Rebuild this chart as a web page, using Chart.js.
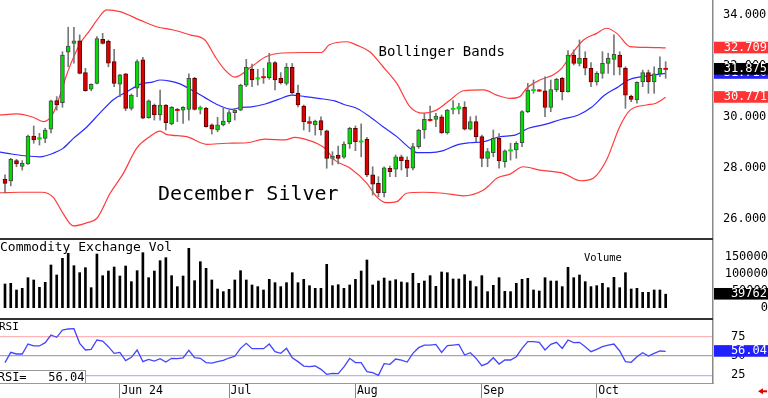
<!DOCTYPE html>
<html>
<head>
<meta charset="utf-8">
<title>December Silver</title>
<script src="https://cdn.jsdelivr.net/npm/chart.js@4.4.1/dist/chart.umd.min.js"></script>
<style>
html, body { margin: 0; padding: 0; background: #fff; }
#wrap { position: relative; width: 768px; height: 398px; overflow: hidden; background: #fff; }
#wrap canvas { position: absolute; left: 0; }
</style>
</head>
<body>
<div id="wrap">
  <canvas id="price" width="768" height="239" style="top:0px"></canvas>
  <canvas id="vol" width="768" height="80" style="top:239px"></canvas>
  <canvas id="rsi" width="768" height="79" style="top:319px"></canvas>
</div>
<script>
// daily bars, May - Oct 2024 (one entry per trading day)
const opens = [
  27.57, 27.49, 28.29, 28.06, 28.16, 29.25, 29.13, 29.16, 29.52, 30.64,
  30.56, 32.54, 32.89, 32.99, 31.74, 31.09, 31.32, 33.05, 32.98, 32.17,
  31.29, 31.69, 30.34, 31.13, 32.24, 29.97, 30.47, 30.08, 30.47, 29.73,
  30.30, 30.27, 30.30, 31.52, 30.30, 30.34, 29.69, 29.49, 29.69, 29.82,
  30.17, 30.27, 31.25, 31.87, 31.50, 31.57, 31.54, 32.13, 31.52, 31.32,
  31.95, 30.93, 30.43, 29.82, 29.69, 29.86, 29.46, 28.38, 28.51, 28.42,
  28.94, 29.56, 29.03, 29.12, 27.73, 27.40, 27.03, 27.99, 27.95, 28.44,
  28.31, 27.99, 28.84, 29.49, 29.91, 29.91, 30.01, 29.38, 30.30, 30.32,
  30.38, 29.52, 29.82, 29.23, 28.38, 28.60, 29.16, 28.25, 28.67, 28.71,
  28.99, 30.21, 31.03, 31.06, 31.03, 30.38, 31.06, 31.52, 30.99, 32.43,
  32.10, 32.30, 31.91, 31.38, 31.71, 32.10, 32.26, 32.43, 31.91, 30.82,
  30.67, 31.38, 31.74, 31.38, 31.69, 31.90
];
const highs = [
  27.73, 28.38, 28.34, 28.29, 29.29, 29.65, 29.36, 29.56, 30.66, 30.80,
  32.56, 33.52, 33.52, 33.22, 31.91, 31.30, 33.15, 33.28, 33.02, 32.65,
  31.67, 31.71, 30.90, 32.24, 32.34, 30.67, 30.51, 31.06, 30.49, 30.41,
  30.34, 30.41, 31.69, 31.56, 30.43, 30.38, 29.73, 29.99, 30.38, 30.25,
  30.34, 31.29, 32.26, 32.08, 31.87, 31.91, 32.50, 32.17, 31.74, 32.10,
  32.10, 31.25, 30.47, 30.01, 29.88, 30.01, 29.49, 28.64, 28.86, 29.03,
  29.60, 29.65, 29.73, 29.20, 28.05, 27.66, 28.05, 28.08, 28.51, 28.51,
  28.44, 28.97, 29.52, 30.14, 30.43, 30.14, 30.08, 30.30, 30.64, 30.54,
  30.60, 30.01, 30.04, 29.29, 28.77, 29.49, 29.35, 28.71, 28.97, 29.03,
  30.25, 31.32, 31.45, 31.08, 31.58, 31.45, 31.52, 31.56, 32.60, 32.63,
  33.02, 32.56, 32.13, 31.78, 32.56, 32.50, 33.22, 32.56, 31.97, 30.86,
  31.38, 31.84, 31.84, 31.97, 32.36, 32.17
];
const lows = [
  27.02, 27.30, 28.05, 27.92, 28.14, 28.97, 28.90, 28.99, 29.38, 30.27,
  30.38, 31.97, 32.11, 31.69, 31.01, 31.03, 31.30, 32.86, 31.97, 31.19,
  30.80, 30.25, 30.27, 30.80, 29.93, 29.95, 29.88, 29.88, 29.49, 29.69,
  29.82, 29.75, 29.88, 30.27, 30.12, 29.60, 29.33, 29.42, 29.65, 29.75,
  29.88, 30.25, 31.19, 31.19, 31.25, 31.32, 31.48, 31.06, 31.29, 31.25,
  30.90, 30.40, 29.49, 29.42, 29.29, 29.29, 27.99, 28.12, 28.16, 28.38,
  28.77, 28.68, 28.44, 27.66, 26.94, 26.87, 26.87, 27.66, 27.66, 27.92,
  27.66, 27.92, 28.77, 29.16, 29.84, 29.62, 29.36, 29.33, 30.12, 30.12,
  29.49, 29.49, 29.03, 28.05, 28.05, 28.44, 27.99, 28.03, 28.31, 28.38,
  28.84, 30.17, 30.93, 31.00, 30.01, 30.21, 30.99, 30.67, 30.97, 32.04,
  32.00, 31.65, 31.19, 31.25, 31.52, 31.71, 31.65, 31.65, 30.34, 30.60,
  30.54, 31.19, 30.93, 30.93, 31.58, 31.52
];
const closes = [
  27.40, 28.34, 28.16, 28.18, 29.25, 29.10, 29.19, 29.49, 30.63, 30.47,
  32.43, 32.78, 32.99, 31.71, 31.03, 31.28, 33.08, 32.89, 32.11, 31.32,
  31.65, 30.34, 30.86, 32.17, 29.95, 30.63, 30.08, 30.47, 29.78, 30.38,
  30.25, 30.38, 31.52, 30.30, 30.38, 29.62, 29.52, 29.69, 29.84, 30.17,
  30.27, 31.25, 31.95, 31.45, 31.53, 31.55, 32.13, 31.45, 31.35, 31.95,
  30.95, 30.47, 29.82, 29.75, 29.84, 29.49, 28.38, 28.47, 28.38, 28.94,
  29.56, 29.03, 29.05, 27.73, 27.37, 27.03, 28.01, 27.86, 28.44, 28.29,
  27.99, 28.84, 29.49, 29.91, 29.86, 30.04, 29.38, 30.27, 30.34, 30.40,
  29.52, 29.82, 29.23, 28.38, 28.64, 29.16, 28.28, 28.67, 28.71, 28.97,
  30.21, 31.06, 31.08, 31.02, 30.38, 31.08, 31.48, 30.99, 32.43, 32.10,
  32.30, 31.91, 31.38, 31.71, 32.10, 32.30, 32.46, 31.95, 30.86, 30.69,
  31.36, 31.74, 31.38, 31.69, 31.91, 31.875
];
const volumes = [
  69700, 71700, 52100, 57000, 88300, 81500, 59900, 74600, 125600, 96200,
  145200, 159900, 123600, 103000, 117700, 58900, 157900, 94200, 107900, 119700,
  93200, 122600, 76600, 108900, 161800, 88300, 107900, 138300, 147100, 94200,
  61900, 93200, 174600, 79500, 135400, 115800, 81500, 55000, 47200, 54000,
  81500, 108900, 81500, 66800, 61900, 52100, 83400, 73600, 61900, 73600,
  103000, 73600, 83400, 64800, 57000, 57000, 127500, 64800, 67700, 57000,
  66800, 83400, 107900, 140300, 66800, 78500, 87300, 78500, 82400, 75600,
  73600, 101100, 71700, 78500, 94200, 62800, 105000, 103000, 84400, 84400,
  97100, 78500, 61900, 94200, 47200, 65800, 88300, 48100, 47200, 71700,
  83400, 86400, 52100, 49100, 88300, 78500, 78500, 61900, 118700, 88300,
  96200, 76600, 61900, 64800, 71700, 58900, 89300, 58900, 103000, 55000,
  57000, 45200, 45200, 52100, 52100, 39762
];
const rsiValues = [
  41.4, 54.7, 52.6, 52.6, 65.5, 63.0, 63.0, 67.3, 77.2, 74.2,
  83.7, 85.0, 85.4, 66.4, 57.8, 58.6, 70.7, 69.4, 62.1, 53.5,
  54.7, 44.0, 48.3, 57.8, 42.7, 45.7, 43.5, 46.5, 42.2, 47.0,
  46.5, 47.4, 57.3, 47.8, 47.0, 41.4, 40.9, 42.7, 44.4, 47.4,
  49.6, 59.9, 66.4, 59.5, 59.5, 59.5, 65.5, 55.6, 53.5, 59.9,
  47.8, 42.7, 37.0, 36.2, 37.0, 32.7, 26.3, 27.5, 27.1, 35.8,
  47.0, 41.4, 41.4, 29.7, 28.4, 25.0, 40.1, 39.2, 46.1, 44.8,
  42.2, 53.5, 60.8, 64.2, 64.2, 65.1, 54.7, 63.4, 64.2, 65.1,
  51.3, 54.3, 47.0, 37.5, 40.5, 47.8, 39.6, 44.8, 44.8, 49.1,
  59.9, 68.6, 68.6, 67.7, 57.8, 65.1, 67.7, 59.9, 70.7, 67.3,
  67.7, 62.1, 55.6, 58.6, 62.1, 64.2, 65.5, 56.5, 42.7, 41.8,
  49.1, 54.3, 50.0, 53.5, 56.5, 56.04
];

// bollinger bands (bar position, price)
const upperAt = [-0.87, 2.0, 4.9, 6.7, 8.4, 9.6, 10.9, 13.1, 14.8, 16.0, 17.7, 20.0, 23.5, 26.4, 29.3, 32.2, 34.8, 36.6, 38.3, 40.0,
  42.9, 45.3, 48.2, 52.2, 55.1, 56.4, 59.5, 61.2, 63.5, 65.8, 68.2, 70.5, 72.8, 75.1, 77.5, 79.8, 83.3, 85.6, 87.9, 89.6,
  90.8, 93.1, 95.4, 96.9, 98.3, 100.7, 103.0, 104.7, 106.5, 108.8, 111.7, 115.0];
const upperVals = [30.08, 30.12, 29.99, 29.82, 30.15, 30.86, 31.76, 32.89, 33.41, 33.80, 34.20, 34.13, 33.80, 33.54, 33.41, 33.22, 33.02, 32.36, 31.84, 31.56,
  31.97, 32.35, 32.51, 32.53, 32.53, 32.82, 32.95, 32.82, 32.56, 31.97, 31.32, 30.40, 30.15, 30.27, 30.67, 31.03, 31.06, 30.86, 30.73, 30.80,
  31.13, 31.45, 31.65, 31.91, 32.36, 33.02, 33.28, 33.48, 33.28, 32.76, 32.73, 32.709];
const midAt = [-0.87, 1.4, 3.8, 6.1, 8.4, 10.1, 11.9, 14.2, 16.5, 18.9, 21.2, 23.5, 25.8, 27.0, 28.7, 30.2, 32.5, 34.8, 37.1, 39.5,
  41.2, 42.9, 45.3, 47.6, 49.9, 52.2, 54.5, 57.4, 58.9, 61.2, 63.5, 65.8, 68.2, 70.5, 71.7, 74.0, 76.3, 78.6, 80.9, 83.3,
  86.2, 88.8, 91.1, 94.0, 96.9, 99.8, 102.1, 104.4, 106.8, 108.5, 110.8, 113.1, 115.0];
const midVals = [28.62, 28.54, 28.47, 28.44, 28.58, 28.77, 29.16, 29.60, 30.15, 30.69, 30.99, 31.28, 31.38, 31.45, 31.41, 31.32, 31.06, 30.76, 30.47, 30.30,
  30.38, 30.40, 30.51, 30.69, 30.86, 30.80, 30.73, 30.63, 30.50, 30.34, 30.01, 29.62, 29.23, 28.77, 28.60, 28.60, 28.68, 28.90, 28.99, 29.03,
  29.23, 29.29, 29.56, 29.71, 29.91, 30.08, 30.38, 30.86, 31.19, 31.45, 31.58, 31.65, 31.71];
const lowerAt = [-0.87, 2.6, 6.4, 8.4, 10.1, 11.9, 14.2, 16.0, 18.3, 20.6, 22.9, 25.2, 27.0, 28.1, 31.6, 35.1, 38.6, 42.1, 45.3, 48.7,
  50.5, 52.2, 54.5, 55.7, 57.4, 60.1, 63.0, 64.7, 66.4, 68.2, 69.9, 72.8, 76.3, 79.8, 83.3, 84.4, 85.6, 87.9, 90.2, 93.1,
  97.2, 100.1, 102.4, 104.7, 107.0, 108.8, 111.7, 113.3, 115.0];
const lowerVals = [27.03, 27.05, 27.05, 26.85, 26.22, 25.73, 25.85, 26.03, 27.01, 27.79, 28.77, 29.23, 29.45, 29.32, 29.23, 28.93, 28.97, 28.99, 29.13, 29.10,
  29.20, 29.13, 28.94, 28.77, 28.31, 27.99, 27.40, 26.87, 26.64, 26.68, 27.01, 27.05, 27.01, 26.91, 27.14, 27.35, 27.60, 27.76, 28.05, 27.92,
  27.79, 27.50, 27.60, 28.31, 29.62, 30.27, 30.47, 30.54, 30.771];

const monthPos = [20, 39, 61, 83, 103];
const monthLabels = ['Jun 24', 'Jul', 'Aug', 'Sep', 'Oct'];
const priceTicks = [26, 28, 30, 32, 34];
const volumeTicks = [0, 50000, 100000, 150000];
const rsiTicks = [25, 50, 75];

const MONO = '"DejaVu Sans Mono", monospace';
Chart.defaults.font.family = MONO;
Chart.defaults.font.size = 12;
Chart.defaults.color = '#000';

const X_MIN = -0.87, X_MAX = 123.24;
const PLOT_RIGHT = 713;
const last = a => a[a.length - 1];
const idx = closes.map((_, i) => i);
const pts = (xs, ys) => xs.map((x, k) => ({ x: x, y: ys[k] }));
const isUp = i => closes[i] >= opens[i];

function bodyRange(i) {
  const lo = Math.min(opens[i], closes[i]);
  const hi = Math.max(opens[i], closes[i]);
  const pad = Math.max(0, 0.05 - (hi - lo)) / 2;
  return [lo - pad, hi + pad];
}

function hiddenX() {
  return { type: 'linear', min: X_MIN, max: X_MAX, offset: false, display: false };
}

function rightY(min, max, ticks, fmt, pad, align, grid) {
  return {
    position: 'right', min: min, max: max,
    afterFit: s => { s.width = 768 - PLOT_RIGHT; s.paddingTop = 0; s.paddingBottom = 0; },
    afterBuildTicks: s => { s.ticks = ticks.map(v => ({ value: v })); },
    grid: grid || { display: false, drawTicks: false },
    border: { display: true, color: '#888', width: 1.5 },
    ticks: { padding: pad, crossAlign: align, callback: fmt, font: { size: 12 } }
  };
}

function tag(ctx, y, bg, text) {
  ctx.fillStyle = bg;
  ctx.fillRect(PLOT_RIGHT + 1, y - 6.2, 768 - PLOT_RIGHT - 1, 11.6);
  ctx.fillStyle = '#fff';
  ctx.font = '12px ' + MONO;
  ctx.textAlign = 'right';
  ctx.textBaseline = 'middle';
  ctx.fillText(text, 767, y - 0.3);
}

function hline(ctx, y, color, w) {
  ctx.strokeStyle = color;
  ctx.lineWidth = w;
  ctx.beginPath();
  ctx.moveTo(0, y);
  ctx.lineTo(PLOT_RIGHT, y);
  ctx.stroke();
}

const common = {
  responsive: false,
  animation: false,
  events: [],
  devicePixelRatio: 1,
  layout: { padding: 0 },
  plugins: { legend: { display: false }, tooltip: { enabled: false } }
};

const priceDeco = {
  id: 'priceDeco',
  afterDraw(chart) {
    const ctx = chart.ctx, y = chart.scales.y;
    ctx.save();
    ctx.fillStyle = '#000';
    ctx.textAlign = 'left';
    ctx.textBaseline = 'alphabetic';
    ctx.font = '14px ' + MONO;
    ctx.fillText('Bollinger Bands', 378.5, 55.5);
    ctx.font = '20px ' + MONO;
    ctx.fillText('December Silver', 158, 200);
    tag(ctx, y.getPixelForValue(last(midVals)), '#2323ff', last(midVals).toFixed(3));
    tag(ctx, y.getPixelForValue(last(upperVals)), '#ff3333', last(upperVals).toFixed(3));
    tag(ctx, y.getPixelForValue(last(lowerVals)), '#ff3333', last(lowerVals).toFixed(3));
    tag(ctx, y.getPixelForValue(last(closes)), '#000', last(closes).toFixed(3));
    hline(ctx, chart.chartArea.bottom, '#333', 2);
    ctx.restore();
  }
};

const volDeco = {
  id: 'volDeco',
  afterDraw(chart) {
    const ctx = chart.ctx, y = chart.scales.y;
    ctx.save();
    ctx.fillStyle = '#000';
    ctx.textAlign = 'left';
    ctx.textBaseline = 'alphabetic';
    ctx.font = '13px ' + MONO;
    ctx.fillText('Commodity Exchange Vol', 0, 11.7);
    ctx.font = '10.5px ' + MONO;
    ctx.fillText('Volume', 584, 22);
    tag(ctx, y.getPixelForValue(last(volumes)), '#000', String(last(volumes)));
    hline(ctx, 0, '#333', 2);
    hline(ctx, 80, '#333', 2);
    ctx.restore();
  }
};

const rsiDeco = {
  id: 'rsiDeco',
  afterDraw(chart) {
    const ctx = chart.ctx, y = chart.scales.y;
    ctx.save();
    ctx.fillStyle = '#000';
    ctx.textAlign = 'left';
    ctx.textBaseline = 'alphabetic';
    ctx.font = '11px ' + MONO;
    ctx.fillText('RSI', -1, 11);
    ctx.fillStyle = '#fff';
    ctx.fillRect(-1, 51, 87, 14);
    ctx.strokeStyle = '#999';
    ctx.lineWidth = 1;
    ctx.strokeRect(-0.5, 51.5, 86, 13);
    ctx.fillStyle = '#000';
    ctx.font = '12px ' + MONO;
    ctx.fillText('RSI=   ' + last(rsiValues).toFixed(2), -2.3, 62);
    tag(ctx, y.getPixelForValue(last(rsiValues)), '#1f1fff', last(rsiValues).toFixed(2));
    hline(ctx, 0, '#333', 2);
    // small red arrow bottom right
    ctx.fillStyle = '#e60000';
    ctx.beginPath();
    ctx.moveTo(758, 72.3);
    ctx.lineTo(763, 69.3);
    ctx.lineTo(763, 75.3);
    ctx.closePath();
    ctx.fill();
    ctx.fillRect(763, 71.3, 4, 2);
    ctx.restore();
  }
};

new Chart(document.getElementById('price'), {
  type: 'bar',
  data: {
    datasets: [
      { type: 'line', data: pts(upperAt, upperVals), borderColor: '#ff3b3b', borderWidth: 1.2, pointRadius: 0, cubicInterpolationMode: 'monotone', order: 3 },
      { type: 'line', data: pts(midAt, midVals), borderColor: '#2a2aff', borderWidth: 1.2, pointRadius: 0, cubicInterpolationMode: 'monotone', order: 3 },
      { type: 'line', data: pts(lowerAt, lowerVals), borderColor: '#ff3b3b', borderWidth: 1.2, pointRadius: 0, cubicInterpolationMode: 'monotone', order: 3 },
      { data: idx.map(i => ({ x: i, y: [lows[i], highs[i]] })), backgroundColor: '#777', barThickness: 1, grouped: false, order: 2 },
      {
        data: idx.map(i => ({ x: i, y: bodyRange(i) })),
        backgroundColor: c => isUp(c.dataIndex) ? '#00dd00' : '#dd0000',
        borderColor: c => isUp(c.dataIndex) ? '#4a4a4a' : '#5a0000',
        borderWidth: c => Math.abs(opens[c.dataIndex] - closes[c.dataIndex]) < 0.08 ? 0 : 1,
        borderSkipped: false,
        barThickness: 4, grouped: false, order: 1
      }
    ]
  },
  options: Object.assign({}, common, {
    scales: {
      x: hiddenX(),
      y: rightY(25.216, 34.588, priceTicks, v => v.toFixed(3), 10, 'near')
    }
  }),
  plugins: [priceDeco]
});

new Chart(document.getElementById('vol'), {
  type: 'bar',
  data: {
    datasets: [
      { data: idx.map(i => ({ x: i, y: volumes[i] })), backgroundColor: '#000', barThickness: 2, grouped: false }
    ]
  },
  options: Object.assign({}, common, {
    scales: {
      x: hiddenX(),
      y: rightY(-33235, 202059, volumeTicks, v => String(v), 10, 'far')
    }
  }),
  plugins: [volDeco]
});

const rsiGridColor = { 25: '#b5b5ff', 50: '#a8a8a8', 75: '#ffb5b5' };

new Chart(document.getElementById('rsi'), {
  type: 'line',
  data: {
    datasets: [
      { data: idx.map(i => ({ x: i, y: rsiValues[i] })), borderColor: '#4444ff', borderWidth: 1.3, pointRadius: 0, tension: 0 }
    ]
  },
  options: Object.assign({}, common, {
    scales: {
      x: {
        type: 'linear', min: X_MIN, max: X_MAX, offset: false, position: 'bottom',
        afterBuildTicks: s => { s.ticks = monthPos.map(v => ({ value: v })); },
        afterFit: s => { s.height = 15; s.paddingLeft = 0; s.paddingRight = 0; },
        grid: { drawOnChartArea: false, drawTicks: true, tickLength: 15, color: '#888', lineWidth: 1 },
        border: { display: true, color: '#999', width: 1 },
        ticks: {
          align: 'start', labelOffset: 1.5, padding: -13.7, maxRotation: 0, autoSkip: false,
          font: { size: 11.5 },
          callback: v => monthLabels[monthPos.indexOf(v)]
        }
      },
      y: rightY(15.03, 97.93, rsiTicks, v => String(v), 18, 'near',
        { display: true, drawTicks: false, lineWidth: 1.2, color: c => (c.tick ? rsiGridColor[c.tick.value] : '#ccc') })
    }
  }),
  plugins: [rsiDeco]
});
</script>
</body>
</html>
